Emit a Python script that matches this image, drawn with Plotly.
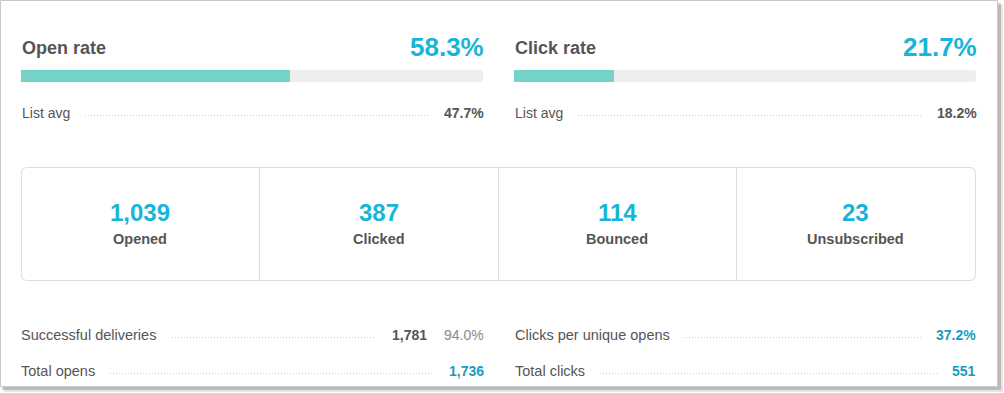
import plotly.graph_objects as go

W, H = 1004, 393

# ---- data ----
rate_labels = ["Open rate", "Click rate"]
rate_values = [58.3, 21.7]
list_avg_values = [47.7, 18.2]
stat_labels = ["Opened", "Clicked", "Bounced", "Unsubscribed"]
stat_values = [1039, 387, 114, 23]
left_row_labels = ["Successful deliveries", "Total opens"]
left_row_values = [1781, 1736]
delivery_pct = 94.0
right_row_labels = ["Clicks per unique opens", "Total clicks"]
clicks_per_unique_open = 37.2
total_clicks = 551

FONT = "Liberation Sans, Arial, sans-serif"
DARK = "#555555"
CYAN = "#17b5d8"
BLUE = "#1a9cc0"
FILL = "#76d3c7"
TRACK = "#eeeeee"


def px(x):
    return x / W


def py(y):
    return 1 - y / H


fig = go.Figure()

# progress bars (each on own axes)
bar_cols = [(21, 483), (514, 976)]
bar_y = (70, 82)
for i, (val, (x0, x1)) in enumerate(zip(rate_values, bar_cols)):
    xa = "x" if i == 0 else "x2"
    ya = "y" if i == 0 else "y2"
    fig.add_trace(go.Bar(x=[100], y=[0], orientation="h", xaxis=xa, yaxis=ya,
                         marker=dict(color=TRACK, line=dict(width=0), cornerradius=3),
                         hoverinfo="skip", showlegend=False))
    fig.add_trace(go.Bar(x=[val], y=[0], orientation="h", xaxis=xa, yaxis=ya,
                         marker=dict(color=FILL, line=dict(width=0)),
                         hoverinfo="skip", showlegend=False))

axis_common = dict(visible=False, fixedrange=True, showgrid=False, zeroline=False)
fig.update_layout(
    xaxis=dict(domain=[px(21), px(483)], range=[0, 100], **axis_common),
    yaxis=dict(domain=[py(bar_y[1]), py(bar_y[0])], range=[-0.5, 0.5], **axis_common),
    xaxis2=dict(domain=[px(514), px(976)], range=[0, 100], anchor="y2", **axis_common),
    yaxis2=dict(domain=[py(bar_y[1]), py(bar_y[0])], range=[-0.5, 0.5], anchor="x2", **axis_common),
    barmode="overlay", bargap=0,
)

shapes = []
# card shadow + card
shapes.append(dict(type="rect", xref="paper", yref="paper", x0=px(4), x1=px(1003), y0=py(392), y1=py(5),
                   fillcolor="rgba(0,0,0,0.10)", line=dict(width=0), layer="below"))
shapes.append(dict(type="rect", xref="paper", yref="paper", x0=px(2), x1=px(1001), y0=py(390), y1=py(3),
                   fillcolor="rgba(0,0,0,0.18)", line=dict(width=0), layer="below"))
shapes.append(dict(type="rect", xref="paper", yref="paper", x0=px(0.5), x1=px(997.5), y0=py(386.5), y1=py(0.5),
                   fillcolor="white", line=dict(color="#c8c8c8", width=1), layer="below"))

# stat box with rounded corners
bx0, bx1, by0, by1, r = 21.5, 975.5, 167.5, 280.5, 6
path = (f"M {px(bx0 + r)},{py(by0)} L {px(bx1 - r)},{py(by0)} "
        f"Q {px(bx1)},{py(by0)} {px(bx1)},{py(by0 + r)} L {px(bx1)},{py(by1 - r)} "
        f"Q {px(bx1)},{py(by1)} {px(bx1 - r)},{py(by1)} L {px(bx0 + r)},{py(by1)} "
        f"Q {px(bx0)},{py(by1)} {px(bx0)},{py(by1 - r)} L {px(bx0)},{py(by0 + r)} "
        f"Q {px(bx0)},{py(by0)} {px(bx0 + r)},{py(by0)} Z")
shapes.append(dict(type="path", xref="paper", yref="paper", path=path,
                   line=dict(color="#dddddd", width=1)))
for dx in [259.5, 498.5, 736.5]:
    shapes.append(dict(type="line", xref="paper", yref="paper", x0=px(dx), x1=px(dx),
                       y0=py(by0), y1=py(by1), line=dict(color="#dddddd", width=1)))

# dotted leaders
for (x0, x1, yy) in [(85, 430, 115.5), (578, 921, 115.5), (172, 376, 337.5),
                     (110, 433, 373.5), (683, 921, 337.5), (600, 939, 373.5)]:
    shapes.append(dict(type="line", xref="paper", yref="paper", x0=px(x0), x1=px(x1),
                       y0=py(yy), y1=py(yy), line=dict(color="#cfcfcf", width=1, dash="1px,2px")))

annotations = []


def ann(text, x, y, size, color, anchor="left", bold=False):
    if bold:
        text = f"<b>{text}</b>"
    if anchor == "left":
        x -= 2
    elif anchor == "right":
        x += 2
    annotations.append(dict(text=text, x=px(x), y=py(y), xref="paper", yref="paper",
                            xanchor=anchor, yanchor="middle", showarrow=False,
                            font=dict(family=FONT, size=size, color=color)))


# rate headers
for lbl, val, avg, (x0, x1) in zip(rate_labels, rate_values, list_avg_values, bar_cols):
    ann(lbl, x0 + 1, 48, 18, DARK, "left", True)
    ann(f"{val:.1f}%", x1 + 1, 47, 26, CYAN, "right", True)
    ann("List avg", x0 + 1, 113, 14, DARK, "left")
    ann(f"{avg:.1f}%", x1 + 1, 113, 14, DARK, "right", True)

# stats
centers = [140, 378.5, 617, 855.5]
for lbl, val, cx in zip(stat_labels, stat_values, centers):
    ann(f"{val:,}", cx, 212, 24, CYAN, "center", True)
    ann(lbl, cx, 239, 14.5, DARK, "center", True)

# detail rows
ann(left_row_labels[0], 21, 335, 14.5, DARK, "left")
ann(f"{left_row_values[0]:,}", 427, 335, 14, DARK, "right", True)
ann(f"{delivery_pct:.1f}%", 484, 335, 14, "#8a8a8a", "right")
ann(left_row_labels[1], 21, 371, 14.5, DARK, "left")
ann(f"{left_row_values[1]:,}", 484, 371, 14, BLUE, "right", True)
ann(right_row_labels[0], 515, 335, 14.5, DARK, "left")
ann(f"{clicks_per_unique_open:.1f}%", 976, 335, 14, BLUE, "right", True)
ann(right_row_labels[1], 515, 371, 14.5, DARK, "left")
ann(f"{total_clicks:,}", 976, 371, 14, BLUE, "right", True)

fig.update_layout(
    width=W, height=H, margin=dict(l=0, r=0, t=0, b=0),
    paper_bgcolor="white", plot_bgcolor="rgba(0,0,0,0)",
    shapes=shapes, annotations=annotations, showlegend=False,
    font=dict(family=FONT),
)

fig.write_html("out.html", config={"displayModeBar": False},
               post_script="document.body.style.margin='0';document.body.style.padding='0';")
